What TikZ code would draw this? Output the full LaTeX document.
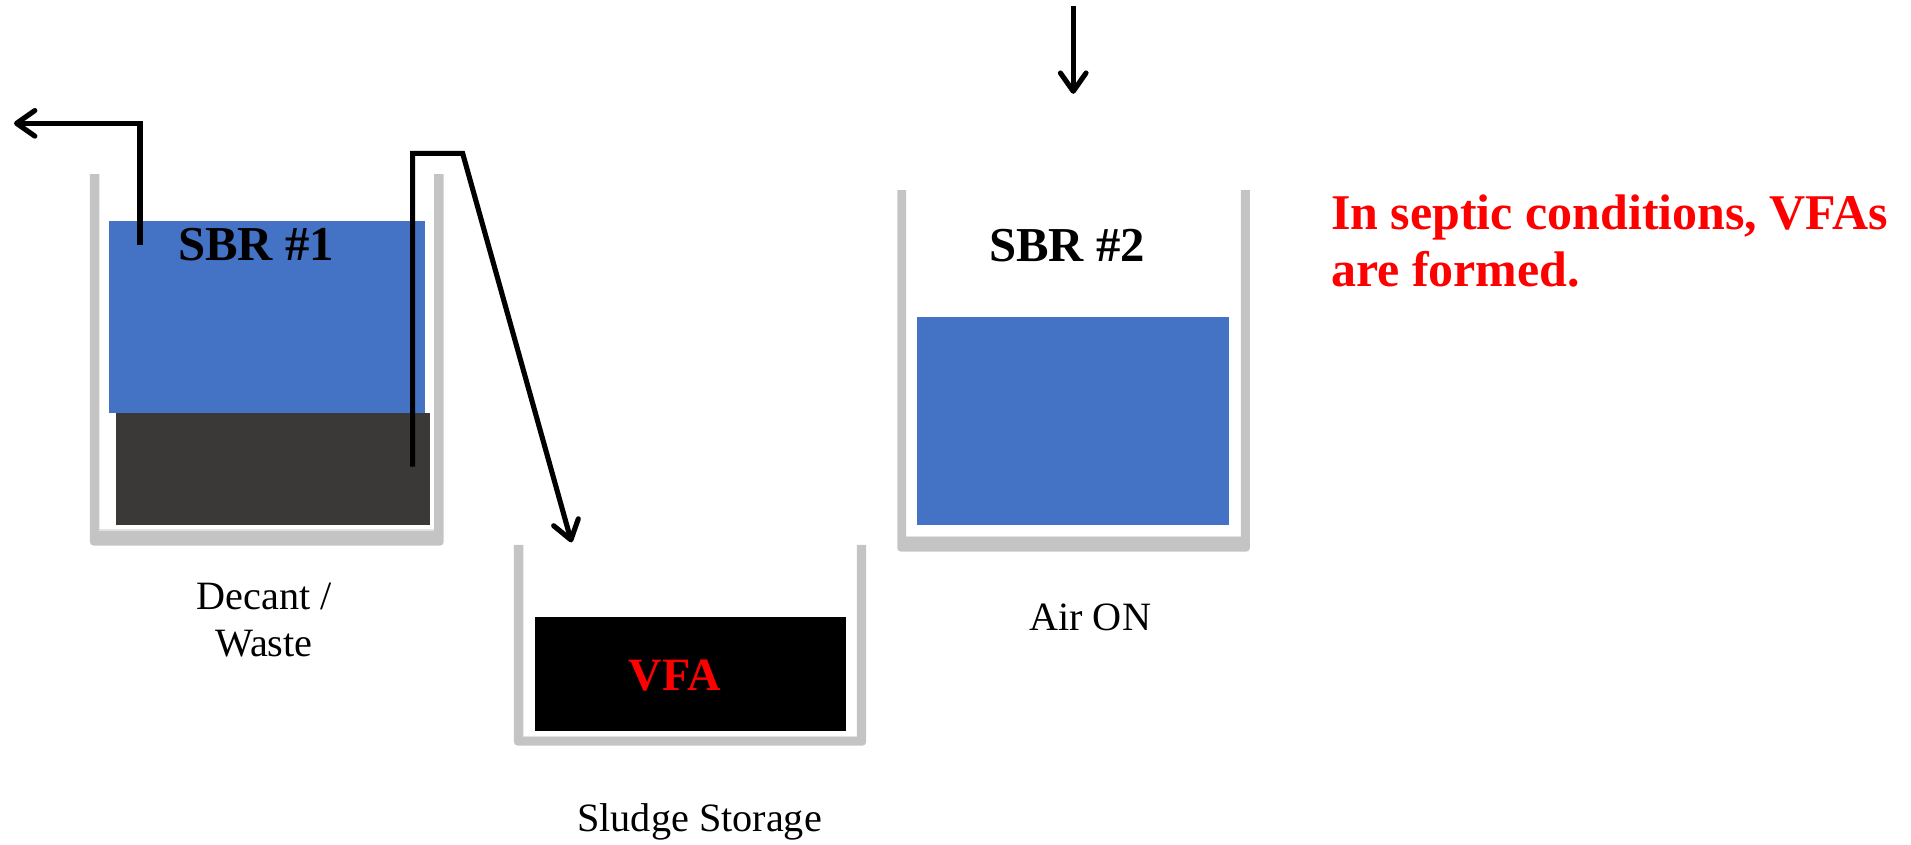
\documentclass[tikz,border=0pt]{standalone}
\usepackage{fontspec}
\setmainfont{Liberation Serif}
\usetikzlibrary{arrows.meta}
\definecolor{tankgray}{HTML}{C4C4C4}
\definecolor{tankrim}{HTML}{E2E2E2}
\definecolor{water}{HTML}{4472C4}
\definecolor{sludge}{HTML}{3A3937}
\definecolor{alert}{HTML}{FF0000}
\begin{document}
\begin{tikzpicture}[x=1pt,y=-1pt,
  pipe/.style={line width=4.2pt, draw=black},
  flow/.style={pipe, -{Straight Barb[length=15pt,width=21pt,round]}},
  title/.style={font=\bfseries\fontsize{40}{47}\selectfont, anchor=base, inner sep=0pt},
  caption/.style={font=\fontsize{33}{39}\selectfont, anchor=base, inner sep=0pt, align=center},
  wall/.style={fill=tankgray},
  rim/.style={draw=tankrim, line width=1pt}
]
\useasboundingbox (0,0) rectangle (1568,693);

% ---- SBR #1 : decant / waste ----
\fill[wall] (73.8,142.8) [rounded corners=3pt] -- (73.8,447.7) -- (364,447.7) [sharp corners] -- (364,142.8)
  -- (356.3,142.8) -- (356.3,434.9) -- (81.5,434.9) -- (81.5,142.8) -- cycle;
\draw[rim] (81.5,434.9) -- (356.3,434.9);
\fill[water] (89.4,181.3) rectangle (348.7,338.6);
\fill[sludge] (95.2,338.6) rectangle (352.8,430.8);
\node[title] (sbr1) at (210,214) {SBR \#1};

% ---- Sludge storage tank ----
\fill[wall] (421.7,447) [rounded corners=3pt] -- (421.7,611.8) -- (710.7,611.8) [sharp corners] -- (710.7,447)
  -- (703,447) -- (703,604.4) -- (429.4,604.4) -- (429.4,447) -- cycle;
\draw[rim] (429.4,604.4) -- (703,604.4);
\fill[black] (439,506.2) rectangle (694,599.5);
\node[title, text=alert, font=\bfseries\fontsize{38}{44}\selectfont] (vfa) at (553.6,566.2) {VFA};

% ---- SBR #2 : aeration ----
\fill[wall] (736.2,155.9) [rounded corners=3pt] -- (736.2,452.6) -- (1025.6,452.6) [sharp corners] -- (1025.6,155.9)
  -- (1018.2,155.9) -- (1018.2,440.3) -- (743.4,440.3) -- (743.4,155.9) -- cycle;
\draw[rim] (743.4,440.3) -- (1018.2,440.3);
\fill[water] (752.4,259.8) rectangle (1008.4,430.8);
\node[title] (sbr2) at (875.6,214.7) {SBR \#2};

% ---- pipes and flows ----
\coordinate (decIn) at (114.9,201);
\coordinate (decUp) at (114.9,101.2);
\coordinate (decOut) at (11.5,101.2);
\draw[flow] (decIn) -- (decUp) -- (decOut);

\coordinate (wasIn) at (338.6,382.9);
\coordinate (wasUp) at (338.6,125.8);
\coordinate (wasOver) at (379.6,125.8);
\coordinate (wasOut) at (469,445);
\draw[flow] (wasIn) -- (wasUp) -- (wasOver) -- (wasOut);

\coordinate (airIn) at (880.6,4.9);
\coordinate (airOut) at (880.6,77);
\draw[flow] (airIn) -- (airOut);

% ---- captions (base anchor of a two-line node sits on its last line) ----
\node[caption] (decant) at (216.6,538.8) {Decant /\\Waste};
\node[caption] (store) at (574,682) {Sludge Storage};
\node[caption] (air) at (894.5,517) {Air ON};

\node[title, text=alert, anchor=base west, align=left, font=\bfseries\fontsize{41}{47}\selectfont] (note)
  at (1092,235.2) {In septic conditions, VFAs\\are formed.};
\end{tikzpicture}
\end{document}
